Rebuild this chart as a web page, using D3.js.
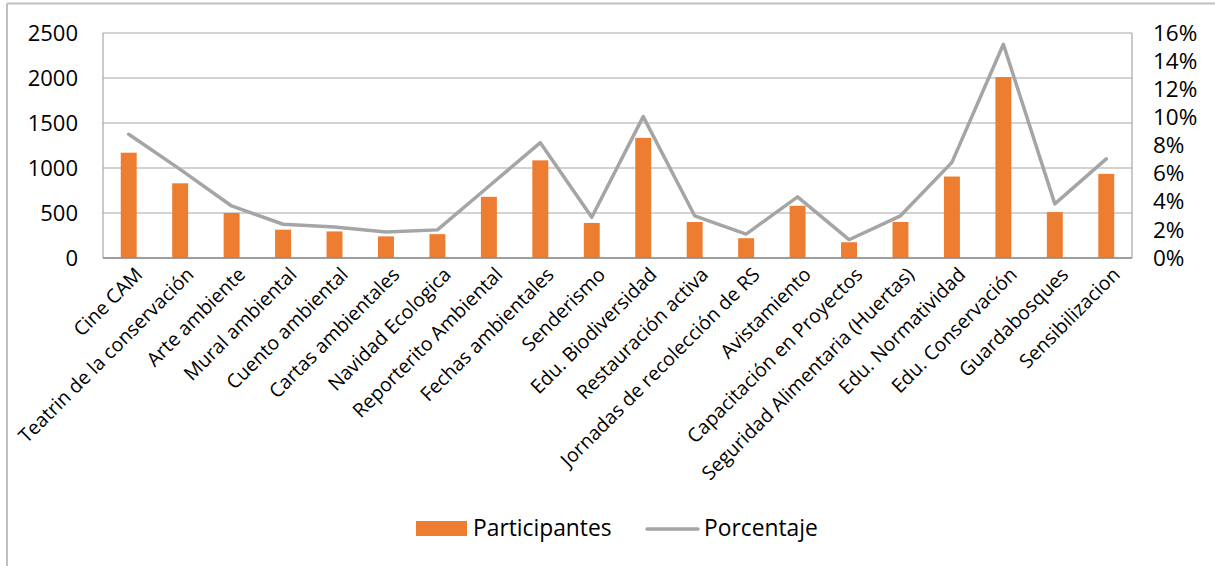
<!DOCTYPE html>
<html>
<head>
<meta charset="utf-8">
<script src="https://cdn.jsdelivr.net/npm/d3@7"></script>
<style>
  html, body { margin: 0; padding: 0; background: #fff; }
  svg { display: block; font-family: "Open Sans", "Noto Sans", sans-serif; }
</style>
</head>
<body>
<svg id="chart" width="1215" height="566"></svg>
<script>
// ---- Data ----
const categories = [
  "Cine CAM", "Teatrin de la conservación", "Arte ambiente", "Mural ambiental",
  "Cuento ambiental", "Cartas ambientales", "Navidad Ecologica", "Reporterito Ambiental",
  "Fechas ambientales", "Senderismo", "Edu. Biodiversidad", "Restauración activa",
  "Jornadas de recolección de RS", "Avistamiento", "Capacitación en Proyectos",
  "Seguridad Alimentaria (Huertas)", "Edu. Normatividad", "Edu. Conservación",
  "Guardabosques", "Sensibilizacion"
];
const participantes = [1170, 830, 500, 315, 295, 240, 265, 680, 1085, 390,
                       1335, 400, 220, 580, 175, 400, 905, 2010, 510, 935];
const porcentaje = [0.088, 0.063, 0.037, 0.024, 0.022, 0.0185, 0.020, 0.051, 0.082, 0.029,
                    0.1005, 0.030, 0.017, 0.0435, 0.013, 0.030, 0.068, 0.152, 0.0385, 0.0705];
const leftTicks = [0, 500, 1000, 1500, 2000, 2500];
const rightTicks = [0, 0.02, 0.04, 0.06, 0.08, 0.10, 0.12, 0.14, 0.16];
const seriesNames = ["Participantes", "Porcentaje"];

// ---- Layout ----
const W = 1215, H = 566;
const plot = { left: 103, right: 1132, top: 33, bottom: 258 };
const barColor = "#ED7D31";
const lineColor = "#A5A5A5";

const svg = d3.select("#chart");
svg.append("rect").attr("width", W).attr("height", H).attr("fill", "#fff");

// outer chart frame (cropped: only left and top edges visible)
svg.append("line").attr("x1", 7).attr("x2", W + 5).attr("y1", 3.5).attr("y2", 3.5)
  .attr("stroke", "#BFBFBF").attr("stroke-width", 2);
svg.append("line").attr("x1", 7).attr("x2", 7).attr("y1", 3.5).attr("y2", H + 5)
  .attr("stroke", "#BFBFBF").attr("stroke-width", 2);

const x = d3.scaleBand().domain(categories).range([plot.left, plot.right]);
const yL = d3.scaleLinear().domain([0, 2500]).range([plot.bottom, plot.top]);
const yR = d3.scaleLinear().domain([0, 0.16]).range([plot.bottom, plot.top]);

// gridlines
svg.append("g").selectAll("line").data(leftTicks).join("line")
  .attr("x1", plot.left).attr("x2", plot.right)
  .attr("y1", d => yL(d)).attr("y2", d => yL(d))
  .attr("stroke", "#A6A6A6").attr("stroke-width", 1.2);

// plot area border (left / right)
svg.append("line").attr("x1", plot.left).attr("x2", plot.left)
  .attr("y1", plot.top).attr("y2", plot.bottom).attr("stroke", "#A6A6A6").attr("stroke-width", 1.2);
svg.append("line").attr("x1", plot.right).attr("x2", plot.right)
  .attr("y1", plot.top).attr("y2", plot.bottom).attr("stroke", "#A6A6A6").attr("stroke-width", 1.2);

// bars
const barW = x.bandwidth() * 0.31;
svg.append("g").selectAll("rect").data(categories).join("rect")
  .attr("x", (d) => x(d) + x.bandwidth() / 2 - barW / 2)
  .attr("y", (d, i) => yL(participantes[i]))
  .attr("width", barW)
  .attr("height", (d, i) => yL(0) - yL(participantes[i]))
  .attr("fill", barColor);

// x axis baseline
svg.append("line").attr("x1", plot.left).attr("x2", plot.right)
  .attr("y1", plot.bottom).attr("y2", plot.bottom)
  .attr("stroke", "#8C8C8C").attr("stroke-width", 1.5);

// line series
const line = d3.line()
  .x((d, i) => x(categories[i]) + x.bandwidth() / 2)
  .y(d => yR(d));
svg.append("path").datum(porcentaje)
  .attr("d", line)
  .attr("fill", "none")
  .attr("stroke", lineColor)
  .attr("stroke-width", 3.5)
  .attr("stroke-linejoin", "round")
  .attr("stroke-linecap", "round");

// left axis
const axL = svg.append("g").attr("transform", `translate(${plot.left},0)`)
  .call(d3.axisLeft(yL).tickValues(leftTicks).tickSize(0).tickPadding(25).tickFormat(d3.format("d")));
axL.select(".domain").remove();
axL.selectAll("text").attr("font-size", 22).attr("fill", "#000")
  .attr("font-family", "'Open Sans', sans-serif");

// right axis
const axR = svg.append("g").attr("transform", `translate(${plot.right},0)`)
  .call(d3.axisRight(yR).tickValues(rightTicks).tickSize(0).tickPadding(21).tickFormat(d3.format(".0%")));
axR.select(".domain").remove();
axR.selectAll("text").attr("font-size", 22.5).attr("fill", "#000")
  .attr("font-family", "'Open Sans', sans-serif");

// category labels
svg.append("g").selectAll("text").data(categories).join("text")
  .attr("transform", d => `translate(${x(d) + x.bandwidth() / 2 + 10},${plot.bottom + 13}) rotate(-45)`)
  .attr("text-anchor", "end")
  .attr("dy", "0.35em")
  .attr("font-size", 19.5)
  .attr("fill", "#000")
  .text(d => d);

// legend
const lg = svg.append("g");
lg.append("rect").attr("x", 416).attr("y", 521).attr("width", 51).attr("height", 15).attr("fill", barColor);
lg.append("text").attr("x", 473).attr("y", 536).attr("font-size", 22.8).attr("fill", "#000").text(seriesNames[0]);
lg.append("line").attr("x1", 647).attr("x2", 698).attr("y1", 529).attr("y2", 529)
  .attr("stroke", lineColor).attr("stroke-width", 3.5).attr("stroke-linecap", "round");
lg.append("text").attr("x", 704).attr("y", 536).attr("font-size", 22.8).attr("fill", "#000").text(seriesNames[1]);
</script>
</body>
</html>
